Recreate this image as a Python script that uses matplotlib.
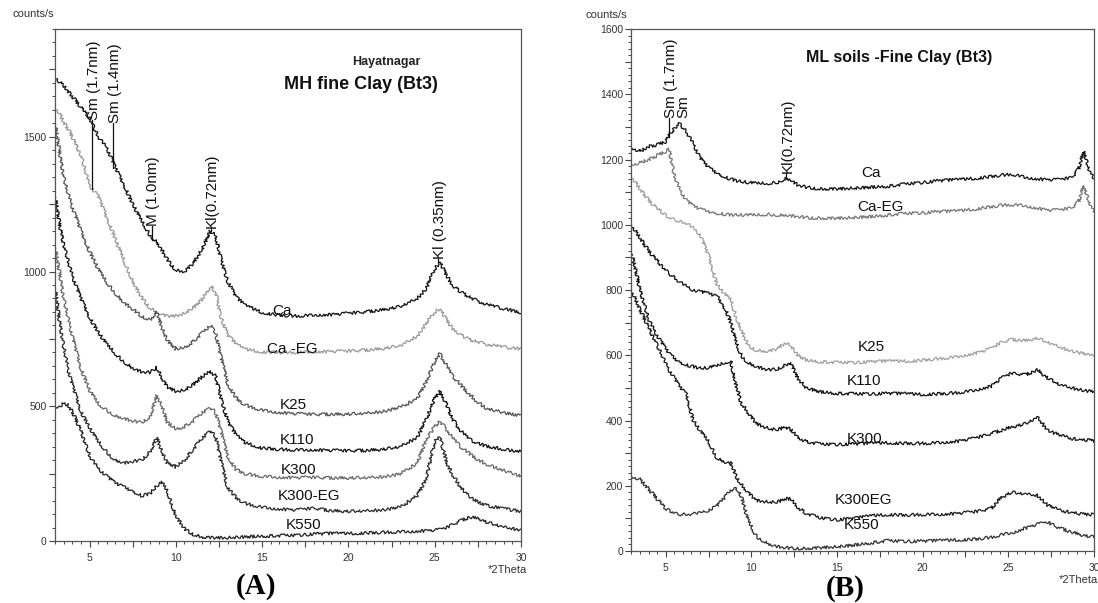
import matplotlib
matplotlib.use("Agg")
import matplotlib.pyplot as plt
from matplotlib.ticker import MultipleLocator, FuncFormatter

plt.rcParams['font.family'] = ['Liberation Sans', 'DejaVu Sans']

# ---- panel A : MH fine clay ----
X_A = [3, 3.25, 3.5, 3.75, 4, 4.5, 5, 5.5, 6, 6.5, 7, 7.5, 8, 8.5, 8.9, 9.2, 9.5, 10,
       10.5, 11, 11.5, 12, 12.3, 12.6, 13, 13.5, 14, 15, 16, 17, 18, 19, 20, 21, 22, 23,
       24, 24.5, 25, 25.3, 25.7, 26, 26.5, 27, 27.5, 28, 29, 30]
CA_A = [1725, 1705, 1690, 1670, 1650, 1610, 1570, 1500, 1460, 1385, 1320, 1250, 1190,
        1135, 1110, 1080, 1045, 1005, 1000, 1030, 1080, 1150, 1135, 1050, 965, 905, 875,
        848, 838, 835, 838, 840, 845, 850, 858, 870, 900, 935, 1010, 1035, 985, 950, 925,
        905, 890, 878, 862, 848]
CAEG_A = [1610, 1590, 1555, 1530, 1500, 1430, 1320, 1280, 1200, 1120, 1040, 965, 905,
          865, 850, 840, 835, 835, 845, 865, 895, 945, 925, 835, 765, 730, 712, 702, 700,
          700, 702, 703, 705, 708, 714, 725, 760, 805, 850, 862, 820, 790, 765, 748, 738,
          730, 720, 712]
K25_A = [1560, 1450, 1350, 1290, 1240, 1150, 1075, 1010, 960, 920, 885, 860, 835, 820,
         850, 790, 745, 712, 718, 740, 770, 800, 775, 685, 585, 530, 505, 485, 476, 472,
         470, 470, 471, 474, 480, 495, 530, 590, 665, 695, 650, 615, 580, 545, 515, 492,
         476, 465]
K110_A = [1290, 1180, 1100, 1040, 985, 900, 830, 775, 730, 695, 665, 642, 628, 625, 645,
          605, 572, 555, 560, 580, 608, 632, 612, 535, 445, 392, 365, 345, 340, 338, 338,
          336, 335, 336, 340, 350, 385, 450, 530, 555, 505, 455, 410, 378, 362, 352, 340,
          332]
K300_A = [1100, 1000, 900, 830, 760, 640, 560, 510, 485, 465, 455, 445, 440, 460, 540,
          500, 440, 415, 425, 445, 475, 495, 480, 410, 315, 265, 250, 240, 236, 235, 236,
          234, 234, 235, 238, 248, 290, 376, 425, 444, 414, 385, 350, 325, 302, 285, 262,
          240]
K300EG_A = [950, 820, 720, 640, 580, 480, 420, 370, 330, 300, 290, 295, 300, 330, 385,
            330, 290, 275, 300, 340, 380, 410, 390, 300, 200, 160, 140, 125, 118, 115, 122,
            112, 110, 112, 115, 125, 170, 230, 370, 385, 290, 250, 200, 165, 145, 132, 120,
            110]
K550_A = [496, 500, 510, 505, 480, 410, 315, 270, 240, 215, 200, 185, 168, 175, 205, 218,
          185, 95, 45, 25, 15, 13, 12, 12, 12, 14, 15, 18, 20, 22, 26, 28, 28, 30, 32, 34,
          36, 38, 40, 42, 50, 60, 75, 88, 85, 70, 52, 40]

SERIES_A = [("Ca", CA_A, "#111111"), ("Ca -EG", CAEG_A, "#9a9a9a"),
            ("K25", K25_A, "#555555"), ("K110", K110_A, "#111111"),
            ("K300", K300_A, "#6a6a6a"), ("K300-EG", K300EG_A, "#2a2a2a"),
            ("K550", K550_A, "#222222")]
LABELS_A = [("Ca", 15.6, 855), ("Ca -EG", 15.3, 712), ("K25", 16.05, 503),
            ("K110", 16.0, 373), ("K300", 16.1, 265), ("K300-EG", 15.9, 166),
            ("K550", 16.35, 60)]
# (text, x of line, line bottom, line top, x of text)
PEAKS_A = [("Sm (1.7nm)", 5.14, 1308, 1562, 5.27),
           ("Sm (1.4nm)", 6.34, 1385, 1550, 6.47),
           ("M (1.0nm)", 8.6, 1118, 1168, 8.68),
           ("Kl(0.72nm)", 12.05, 1150, 1162, 12.08),
           ("Kl (0.35nm)", 25.2, 1035, 1045, 25.3)]

# ---- panel B : ML soils fine clay ----
X_B = [3, 3.5, 4, 4.5, 5, 5.2, 5.5, 5.8, 6.2, 6.6, 7, 7.5, 8, 8.5, 8.8, 9.1, 9.4, 9.8,
       10.3, 11, 11.5, 12, 12.3, 12.7, 13.2, 14, 15, 16, 17, 18, 19, 20, 21, 22, 23, 24,
       24.6, 25.2, 26, 26.7, 27.3, 28, 28.7, 29.1, 29.4, 29.7, 30]
CA_B = [1236, 1225, 1240, 1245, 1255, 1275, 1295, 1310, 1285, 1250, 1205, 1175, 1158,
        1145, 1140, 1135, 1132, 1130, 1127, 1127, 1130, 1142, 1138, 1122, 1115, 1110, 1110,
        1112, 1115, 1118, 1125, 1130, 1135, 1138, 1142, 1148, 1152, 1155, 1145, 1140, 1138,
        1138, 1145, 1170, 1225, 1170, 1140]
CAEG_B = [1184, 1190, 1200, 1212, 1225, 1232, 1150, 1110, 1075, 1058, 1048, 1040, 1035,
          1032, 1030, 1030, 1030, 1030, 1030, 1032, 1030, 1030, 1028, 1025, 1022, 1020,
          1020, 1022, 1025, 1030, 1035, 1037, 1040, 1042, 1048, 1055, 1060, 1062, 1058,
          1050, 1045, 1045, 1052, 1070, 1120, 1070, 1040]
K25_B = [1150, 1110, 1075, 1050, 1030, 1020, 1015, 1010, 1005, 990, 970, 905, 815, 785,
         770, 720, 680, 630, 615, 612, 620, 638, 630, 600, 585, 580, 578, 578, 580, 582,
         582, 585, 590, 595, 605, 620, 640, 648, 645, 652, 640, 625, 612, 608, 605, 600,
         598]
K110_B = [1000, 960, 920, 890, 860, 850, 838, 825, 812, 800, 795, 790, 780, 740, 700, 640,
          600, 578, 565, 555, 558, 570, 578, 530, 500, 488, 483, 482, 482, 483, 482, 480,
          482, 485, 492, 505, 530, 545, 540, 555, 530, 510, 500, 495, 492, 490, 488]
K300_B = [920, 800, 710, 660, 620, 605, 590, 580, 570, 565, 560, 562, 568, 578, 582, 510,
          455, 425, 390, 375, 372, 380, 372, 350, 335, 328, 327, 328, 330, 332, 330, 330,
          332, 336, 345, 360, 370, 380, 390, 410, 370, 355, 345, 342, 340, 340, 338]
K300EG_B = [800, 740, 685, 630, 575, 555, 530, 505, 480, 400, 370, 335, 285, 272, 270, 230,
            205, 180, 155, 150, 150, 160, 160, 135, 115, 102, 96, 100, 108, 112, 110, 112,
            112, 115, 120, 130, 165, 180, 175, 170, 140, 125, 118, 115, 113, 112, 112]
K550_B = [228, 220, 190, 160, 130, 125, 115, 112, 112, 114, 117, 125, 138, 168, 185, 195,
          170, 95, 44, 22, 14, 10, 9, 8, 8, 10, 13, 18, 25, 32, 30, 30, 32, 34, 36, 42, 50,
          55, 70, 82, 88, 70, 58, 52, 48, 45, 43]

SERIES_B = [("Ca", CA_B, "#111111"), ("Ca-EG", CAEG_B, "#777777"),
            ("K25", K25_B, "#a0a0a0"), ("K110", K110_B, "#111111"),
            ("K300", K300_B, "#111111"), ("K300EG", K300EG_B, "#1a1a1a"),
            ("K550", K550_B, "#333333")]
LABELS_B = [("Ca", 16.4, 1160), ("Ca-EG", 16.2, 1055), ("K25", 16.2, 626),
            ("K110", 15.55, 521), ("K300", 15.55, 342), ("K300EG", 14.85, 156),
            ("K550", 15.4, 80)]
PEAKS_B = [("Sm (1.7nm)", 5.18, 1270, 1328, 5.33),
           ("Sm", None, None, 1328, 6.05),
           ("Kl(0.72nm)", 12.0, 1142, 1160, 12.1)]


def xLabel(v, pos):
    return "%g" % v if abs(v % 5) < 1e-6 else ""


def drawPanel(ax, xs, series, labels, peaks, ymax, ymajor, yminor, ylabstep):
    for name, ys, col in series:
        line, = ax.plot(xs, ys, color=col, lw=0.9)
        # jagged look of the raw diffractogram
        line.set_sketch_params(scale=1.5, length=2.5, randomness=6)
    for txt, x, y in labels:
        ax.text(x, y, txt, fontsize=11, va="center", ha="left", color="#111111")
    for txt, lx, y0, y1, tx in peaks:
        if lx is not None:
            ax.plot([lx, lx], [y0, y1], color="#111111", lw=0.9)
        ax.text(tx, y1, txt, rotation=90, fontsize=11, ha="center", va="bottom",
                color="#111111")
    ax.set_xlim(3, 30)
    ax.set_ylim(0, ymax)
    ax.xaxis.set_major_locator(MultipleLocator(2.5))
    ax.xaxis.set_minor_locator(MultipleLocator(0.5))
    ax.xaxis.set_major_formatter(FuncFormatter(xLabel))
    ax.yaxis.set_major_locator(MultipleLocator(ymajor))
    ax.yaxis.set_minor_locator(MultipleLocator(yminor))
    ax.yaxis.set_major_formatter(FuncFormatter(
        lambda v, p: "%d" % v if abs(v % ylabstep) < 1e-6 else ""))
    ax.tick_params(which="major", direction="out", length=4.5, width=0.8,
                   colors="#444444", labelsize=7.5, labelcolor="#333333", pad=1.5)
    ax.tick_params(axis="x", which="major", pad=4)
    ax.tick_params(which="minor", direction="out", length=2.5, width=0.7,
                   colors="#444444")
    for sp in ax.spines.values():
        sp.set_color("#555555")
        sp.set_linewidth(0.9)


fig = plt.figure(figsize=(10.98, 6.03), dpi=100)
axA = fig.add_axes([0.0501, 0.1028, 0.4244, 0.8491])
axB = fig.add_axes([0.5751, 0.0862, 0.4212, 0.8657])

drawPanel(axA, X_A, SERIES_A, LABELS_A, PEAKS_A, 1900, 250, 50, 500)
drawPanel(axB, X_B, SERIES_B, LABELS_B, PEAKS_B, 1600, 100, 20, 200)

axA.text(0.71, 0.936, "Hayatnagar", transform=axA.transAxes, fontsize=9,
         fontweight="bold", ha="center", va="center", color="#222222")
axA.text(0.656, 0.891, "MH fine Clay (Bt3)", transform=axA.transAxes, fontsize=13,
         fontweight="bold", ha="center", va="center", color="#111111")
axB.text(0.578, 0.946, "ML soils -Fine Clay (Bt3)", transform=axB.transAxes,
         fontsize=11.5, fontweight="bold", ha="center", va="center", color="#111111")

fig.text(0.030, 0.977, "counts/s", fontsize=8, ha="center", va="center", color="#333333")
fig.text(0.552, 0.975, "counts/s", fontsize=8, ha="center", va="center", color="#333333")
fig.text(0.480, 0.054, "*2Theta", fontsize=8, ha="right", va="center", color="#333333")
fig.text(1.0, 0.038, "*2Theta", fontsize=8, ha="right", va="center", color="#333333")

fig.text(0.233, 0.027, "(A)", fontsize=21, fontweight="bold", ha="center", va="center",
         family=["Liberation Serif", "DejaVu Serif"])
fig.text(0.770, 0.024, "(B)", fontsize=21, fontweight="bold", ha="center", va="center",
         family=["Liberation Serif", "DejaVu Serif"])

fig.savefig("out.png", dpi=100)
